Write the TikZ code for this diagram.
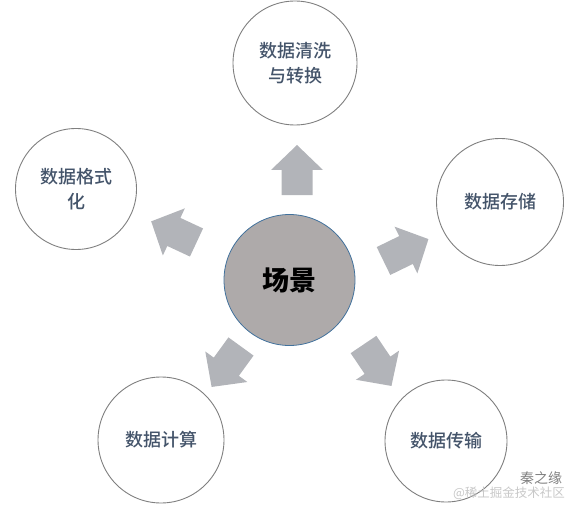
\documentclass[tikz,border=0pt]{standalone}
\usepackage{fontspec}
\newfontfamily\cjk{Noto Sans CJK SC}
\newfontfamily\cjkmed{Noto Sans CJK SC Medium}
\usetikzlibrary{positioning}
\definecolor{scenegray}{RGB}{174,170,170}
\definecolor{sceneline}{RGB}{65,113,156}
\definecolor{arrowgray}{RGB}{178,180,185}
\definecolor{labelblue}{RGB}{68,84,106}
\definecolor{ringgray}{RGB}{127,127,127}
\definecolor{markgray}{RGB}{200,200,200}

\tikzset{
  topic/.style={circle,draw=ringgray,line width=0.9pt,fill=white,minimum size=#1,inner sep=0pt,
    align=center,text=labelblue,font=\cjkmed\fontsize{18}{25}\selectfont},
}

\begin{document}
\begin{tikzpicture}[x=1pt,y=1pt]
\useasboundingbox (0,0) rectangle (578,515);
% block arrows out of the centre
\foreach \x/\y/\a in {297/320/90,196.5/272.5/155,383.5/254/26,241/168.5/234,363.5/170.5/-56}{
  \fill[arrowgray,shift={(\x,\y)},rotate=\a]
    (0,-15.5) -- (25,-15.5) -- (25,-26) -- (50,0) -- (25,26) -- (25,15.5) -- (0,15.5) -- cycle;
}
% centre circle
\node[circle,draw=sceneline,line width=0.8pt,fill=scenegray,minimum size=131,inner sep=0pt,
  font=\cjk\bfseries\fontsize{27}{30}\selectfont] (scene) at (289.5,235) {场景};
% outer circles
\node[topic=124] (clean) at (295,452) {数据清洗\\与转换};
\node[topic=121] (format) at (76,326) {数据格式\\化};
\node[topic=127] (store) at (500,313) {数据存储};
\node[topic=126] (compute) at (161,75) {数据计算};
\node[topic=122] (transfer) at (446,74) {数据传输};
% watermark
\node[font=\cjk\fontsize{12.5}{14}\selectfont,text=markgray] (mark) at (509,22) {@稀土掘金技术社区};
\node[font=\cjk\fontsize{14}{16}\selectfont,text=gray,inner sep=0pt,anchor=south] (author) at (541,30) {秦之缘};
\end{tikzpicture}
\end{document}
